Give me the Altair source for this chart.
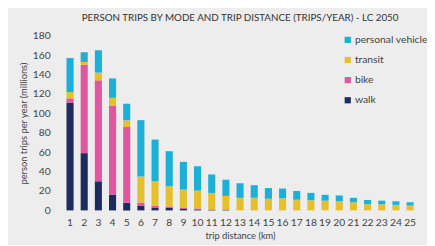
import altair as alt
import pandas as pd

distance = list(range(1, 26))
walk = [111, 59, 30, 16, 8, 5, 3, 2.5, 1.5, 1, 0.5, 0.5, 0, 0, 0, 0, 0, 0, 0, 0, 0, 0, 0, 0, 0]
bike = [4.5, 91, 104, 92, 78, 3, 2, 1.5, 1, 1, 0.5, 0.5, 0, 0, 0, 0, 0, 0, 0, 0, 0, 0, 0, 0, 0]
transit = [6.5, 3, 8, 8, 7, 27, 25, 21, 19, 18.5, 17, 14, 13, 13, 12, 12.5, 11, 10.4, 10, 9.4, 8.4, 6.4, 6.4, 5.7, 5]
personal_vehicle = [35, 10, 23, 20, 17, 58, 43, 36, 28.5, 25, 19, 16.6, 15, 13, 11, 10, 9, 7.6, 6, 6, 4.6, 4.4, 3.6, 3.7, 3.4]

modes = ["personal vehicle", "transit", "bike", "walk"]
colors = ["#1cb0d8", "#e5c02c", "#e0569f", "#1e2b5e"]
stack_rank = {"walk": 0, "bike": 1, "transit": 2, "personal vehicle": 3}

rows = []
series = {"walk": walk, "bike": bike, "transit": transit, "personal vehicle": personal_vehicle}
for m, vals in series.items():
    for d, v in zip(distance, vals):
        rows.append({"distance": d, "mode": m, "trips": v, "rank": stack_rank[m]})
df = pd.DataFrame(rows)

FONT = "Lato"

chart = alt.Chart(df).mark_bar().encode(
    x=alt.X("distance:O", title="trip distance (km)",
            scale=alt.Scale(paddingInner=0.5, paddingOuter=0.25),
            axis=alt.Axis(labelAngle=0, domain=False, ticks=False, labelPadding=7,
                          titlePadding=3, labelFontSize=10.5, titleFontSize=9.5,
                          labelColor="#444444", titleColor="#444444", titleFontWeight="normal",
                          labelFont=FONT, titleFont=FONT)),
    y=alt.Y("trips:Q", title="person trips per year (millions)",
            scale=alt.Scale(domain=[0, 180], nice=False),
            axis=alt.Axis(values=list(range(0, 181, 20)), domain=False, ticks=False, grid=False,
                          labelPadding=13, titleX=-40, titleBaseline="middle",
                          labelFontSize=10.5, titleFontSize=9.5,
                          labelColor="#444444", titleColor="#444444", titleFontWeight="normal",
                          labelFont=FONT, titleFont=FONT)),
    color=alt.Color("mode:N", scale=alt.Scale(domain=modes, range=colors),
                    legend=alt.Legend(title=None, orient="none", legendX=285, legendY=-1,
                                      symbolType="square", symbolSize=40, symbolStrokeWidth=0,
                                      rowPadding=9.5, labelFontSize=10.5, labelColor="#444444",
                                      labelFont=FONT, labelOffset=2)),
    order=alt.Order("rank:Q", sort="ascending"),
).properties(
    width=361,
    height=178,
    title=alt.TitleParams("PERSON TRIPS BY MODE AND TRIP DISTANCE (TRIPS/YEAR) - LC 2050",
                          fontSize=10, font=FONT, fontWeight="normal", color="#333333",
                          anchor="middle", offset=8),
    padding={"left": 56, "top": 26, "right": 10, "bottom": 33},
    autosize=alt.AutoSizeParams(type="none"),
    background="#ededed",
).configure_view(stroke=None)

chart.save("out.html", embed_options={"renderer": "svg", "actions": False})
